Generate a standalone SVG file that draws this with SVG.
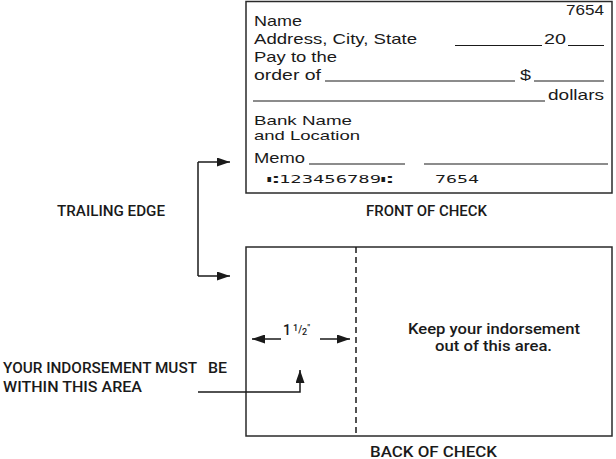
<svg xmlns="http://www.w3.org/2000/svg" width="616" height="459" viewBox="0 0 616 459">
<style>
.ck{font-family:"Liberation Sans",Arial,sans-serif;font-size:15px;fill:#1a1a1a}
.ck2{font-family:"Liberation Sans",Arial,sans-serif;font-size:13.5px;fill:#1a1a1a}
.lb{font-family:Roboto,"Liberation Sans",Arial,sans-serif;font-size:14px;font-weight:500;fill:#1a1a1a}
.micr{font-family:"DejaVu Sans Mono","DejaVu Sans",monospace;font-size:11px;fill:#1a1a1a}
.ln{stroke:#1a1a1a;stroke-width:1.2;fill:none}
.box{stroke:#2a2a2a;stroke-width:1.5;fill:#fff}
.con{stroke:#1a1a1a;stroke-width:1.5;fill:none}
</style>
<defs>
<marker id="ah" viewBox="0 0 13 9" refX="13" refY="4.5" markerWidth="13" markerHeight="9" markerUnits="userSpaceOnUse" orient="auto">
<path d="M0,0 L13,4.5 L0,9 Z" fill="#1a1a1a"/>
</marker>
</defs>
<rect width="616" height="459" fill="#fff"/>

<g id="front-check">
<rect class="box" x="246" y="1.5" width="366" height="191.5"/>
<text class="ck" x="566" y="15" textLength="38" lengthAdjust="spacingAndGlyphs">7654</text>
<text class="ck" x="254" y="26" textLength="48" lengthAdjust="spacingAndGlyphs">Name</text>
<text class="ck" x="254" y="44" textLength="163" lengthAdjust="spacingAndGlyphs">Address, City, State</text>
<text class="ck" x="544" y="44" textLength="22" lengthAdjust="spacingAndGlyphs">20</text>
<text class="ck" x="254" y="62" textLength="83" lengthAdjust="spacingAndGlyphs">Pay to the</text>
<text class="ck" x="254" y="80" textLength="67" lengthAdjust="spacingAndGlyphs">order of</text>
<text class="ck" x="520" y="80" textLength="11" lengthAdjust="spacingAndGlyphs">$</text>
<text class="ck" x="548" y="100" textLength="56" lengthAdjust="spacingAndGlyphs">dollars</text>
<text class="ck2" x="254" y="125" textLength="98" lengthAdjust="spacingAndGlyphs">Bank Name</text>
<text class="ck2" x="254" y="140" textLength="106" lengthAdjust="spacingAndGlyphs">and Location</text>
<text class="ck" x="254" y="163" textLength="51" lengthAdjust="spacingAndGlyphs">Memo</text>
<text class="micr" x="267" y="183" textLength="126" lengthAdjust="spacingAndGlyphs">⑆123456789⑆</text>
<text class="micr" x="435" y="183" textLength="44" lengthAdjust="spacingAndGlyphs">7654</text>
<path class="ln" d="M455,45.5H542M568,45.5H604M325,81H515M534,81H604M253,101H545M309,164H405M424,164H608"/>
</g>

<g id="back-check">
<rect class="box" x="246" y="247" width="366" height="189"/>
<line x1="356" y1="247" x2="356" y2="436" stroke="#1a1a1a" stroke-width="1.5" stroke-dasharray="6 4"/>
<text class="lb" x="408" y="334" textLength="172" lengthAdjust="spacingAndGlyphs">Keep your indorsement</text>
<text class="lb" x="435" y="351" textLength="117" lengthAdjust="spacingAndGlyphs">out of this area.</text>
<text class="lb" x="283" y="335"><tspan font-size="14">1</tspan><tspan x="293" font-size="9" dy="-4">1</tspan><tspan font-size="10" dy="2">/</tspan><tspan font-size="9" dy="2">2</tspan><tspan font-size="9" dy="-4">"</tspan></text>
</g>

<g id="labels">
<text class="lb" x="57" y="216" textLength="108" lengthAdjust="spacingAndGlyphs">TRAILING EDGE</text>
<text class="lb" x="366" y="216" textLength="121" lengthAdjust="spacingAndGlyphs">FRONT OF CHECK</text>
<text class="lb" x="370" y="457" textLength="127" lengthAdjust="spacingAndGlyphs">BACK OF CHECK</text>
<text class="lb" x="3" y="373"><tspan textLength="194" lengthAdjust="spacingAndGlyphs">YOUR INDORSEMENT MUST</tspan><tspan x="208" textLength="19" lengthAdjust="spacingAndGlyphs">BE</tspan></text>
<text class="lb" x="3" y="392" textLength="139" lengthAdjust="spacingAndGlyphs">WITHIN THIS AREA</text>
</g>

<g id="connectors">
<path class="con" d="M198,162V276"/>
<path class="con" d="M198,162H230" marker-end="url(#ah)"/>
<path class="con" d="M198,276H230" marker-end="url(#ah)"/>
<path class="con" d="M281,339H252" marker-end="url(#ah)"/>
<path class="con" d="M320,339H350" marker-end="url(#ah)"/>
<path class="con" d="M198,392H300V370" marker-end="url(#ah)"/>
</g>
</svg>
